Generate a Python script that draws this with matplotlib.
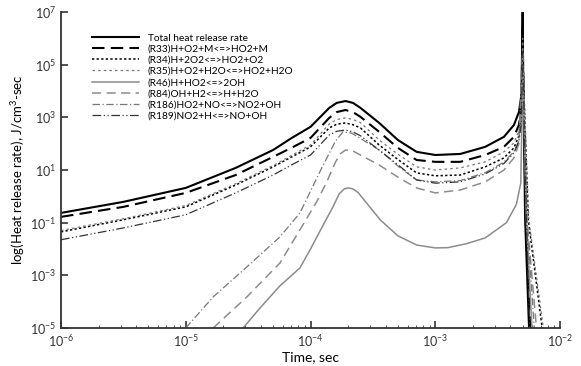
import matplotlib
matplotlib.use("Agg")
import matplotlib.pyplot as plt
import numpy as np
from matplotlib.ticker import LogLocator, NullLocator, FixedLocator

plt.rcParams['font.family'] = ['Lato', 'DejaVu Sans']
plt.rcParams['mathtext.fontset'] = 'custom'
plt.rcParams['mathtext.rm'] = 'Lato'

# values, stored as log10(time) and log10(rate)
t_main = [-6.0, -5.5, -5.0, -4.6, -4.3, -4.15, -4.0, -3.85, -3.79, -3.72, -3.66, -3.6,
          -3.45, -3.3, -3.15, -3.0, -2.8, -2.6, -2.45, -2.37, -2.33, -2.31, -2.30]

total_t = t_main + [-2.297, -2.28, -2.245]
total_v = [-0.63, -0.21, 0.32, 1.08, 1.76, 2.22, 2.64, 3.36, 3.55, 3.62, 3.55, 3.36,
           2.79, 2.14, 1.69, 1.57, 1.61, 1.88, 2.26, 2.71, 3.2, 3.85, 7.0, 5.0, -0.9, -5.5]

r33_t = t_main + [-2.295, -2.275, -2.235]
r33_v = [-0.78, -0.40, 0.13, 0.81, 1.5, 1.85, 2.22, 2.98, 3.2, 3.28, 3.2, 3.02,
         2.45, 1.84, 1.38, 1.31, 1.31, 1.57, 1.88, 2.26, 2.71, 3.4, 6.4, 4.5, -0.9, -5.5]

r34_t = t_main + [-2.29, -2.255, -2.13]
r34_v = [-1.35, -0.89, -0.40, 0.43, 1.12, 1.5, 1.88, 2.6, 2.74, 2.79, 2.72, 2.6,
         1.95, 1.4, 0.89, 0.78, 0.81, 1.12, 1.46, 1.84, 2.3, 3.0, 6.0, 4.0, -0.9, -5.5]

r35_t = t_main + [-2.29, -2.25, -2.12]
r35_v = [-1.30, -0.85, -0.35, 0.48, 1.17, 1.56, 1.95, 2.75, 2.92, 2.98, 2.92, 2.8,
         2.14, 1.6, 1.12, 1.0, 1.08, 1.31, 1.69, 2.03, 2.5, 3.2, 6.0, 4.0, -0.9, -5.5]

r46_t = [-4.60, -4.54, -4.41, -4.245, -4.085, -4.0, -3.9, -3.82, -3.77, -3.73, -3.70,
         -3.66, -3.62, -3.5, -3.44, -3.3, -3.15, -3.0, -2.9, -2.75, -2.6, -2.43, -2.35,
         -2.315, -2.30, -2.29, -2.27, -2.22]
r46_v = [-5.5, -5.0, -4.27, -3.4, -2.72, -2.0, -1.1, -0.4, 0.1, 0.28, 0.32,
         0.28, 0.15, -0.55, -0.9, -1.5, -1.85, -1.96, -1.95, -1.8, -1.58, -1.0, -0.3,
         0.5, 4.5, 3.0, -0.9, -5.5]

r84_t = [-4.83, -4.78, -4.51, -4.245, -4.085, -3.95, -3.87, -3.80, -3.76, -3.72, -3.66,
         -3.6, -3.45, -3.29, -3.15, -3.0, -2.8, -2.6, -2.45, -2.37, -2.33, -2.30, -2.29,
         -2.265, -2.18]
r84_v = [-5.5, -5.0, -3.82, -2.53, -1.27, -0.2, 0.55, 1.3, 1.62, 1.76, 1.72,
         1.57, 1.19, 0.7, 0.32, 0.13, 0.24, 0.55, 1.0, 1.46, 2.0, 5.5, 3.5, -0.9, -5.5]

r186_t = [-5.04, -5.0, -4.78, -4.51, -4.245, -4.085, -3.91, -3.80, -3.74, -3.67, -3.6,
          -3.45, -3.3, -3.15, -3.0, -2.8, -2.6, -2.45, -2.37, -2.33, -2.30, -2.29,
          -2.265, -2.2]
r186_v = [-5.5, -5.0, -3.82, -2.68, -1.54, -0.63, 1.08, 2.1, 2.45, 2.4, 2.2,
          1.76, 1.15, 0.62, 0.55, 0.6, 0.9, 1.3, 1.7, 2.1, 5.5, 3.5, -0.9, -5.5]

r189_t = t_main + [-2.29, -2.27, -2.24]
r189_v = [-1.65, -1.2, -0.7, 0.13, 0.81, 1.2, 1.57, 2.33, 2.47, 2.52, 2.45, 2.3,
          1.76, 1.2, 0.62, 0.5, 0.55, 0.85, 1.25, 1.65, 2.1, 2.8, 5.5, 3.5, -0.9, -5.5]

labels = ["Total heat release rate", "(R33)H+O2+M<=>HO2+M", "(R34)H+2O2<=>HO2+O2",
          "(R35)H+O2+H2O<=>HO2+H2O", "(R46)H+HO2<=>2OH", "(R84)OH+H2<=>H+H2O",
          "(R186)HO2+NO<=>NO2+OH", "(R189)NO2+H<=>NO+OH"]

fig = plt.figure(figsize=(5.81, 3.66), dpi=100)
ax = fig.add_axes([0.105, 0.104, 0.859, 0.863])

series = [(total_t, total_v), (r33_t, r33_v), (r34_t, r34_v), (r35_t, r35_v),
          (r46_t, r46_v), (r84_t, r84_v), (r186_t, r186_v), (r189_t, r189_v)]
styles = [
    dict(color='black', lw=1.5, ls='-'),
    dict(color='black', lw=1.5, ls=(0, (6, 3))),
    dict(color='black', lw=1.1, ls=(0, (1.5, 1.5))),
    dict(color='#777777', lw=0.9, ls=(0, (2, 2.5))),
    dict(color='#8c8c8c', lw=1.1, ls='-'),
    dict(color='#8c8c8c', lw=1.1, ls=(0, (6, 3.5))),
    dict(color='#777777', lw=0.9, ls=(0, (6, 2, 1, 2))),
    dict(color='#333333', lw=0.9, ls=(0, (7, 2, 1, 2, 1, 2))),
]

for (t, v), lab, st in zip(series, labels, styles):
    ax.plot(10 ** np.array(t), 10 ** np.array(v), label=lab, **st)

ax.set_xscale('log')
ax.set_yscale('log')
ax.set_xlim(1e-6, 1e-2)
ax.set_ylim(1e-5, 1e7)
ax.yaxis.set_major_locator(FixedLocator([1e-5, 1e-3, 1e-1, 1e1, 1e3, 1e5, 1e7]))
ax.yaxis.set_minor_locator(NullLocator())
ax.xaxis.set_minor_locator(LogLocator(base=10.0, subs=np.arange(2, 10), numticks=12))

for s in ['top', 'right']:
    ax.spines[s].set_visible(False)
for s in ['left', 'bottom']:
    ax.spines[s].set_linewidth(1.3)
    ax.spines[s].set_color('#333333')
ax.tick_params(which='major', direction='in', length=5, width=1.2, labelsize=9, colors='#333333')
ax.tick_params(which='minor', direction='in', length=2.5, width=0.7, colors='#555555')

ax.set_xlabel("Time, sec", fontsize=10, labelpad=2)
ax.set_ylabel("log(Heat release rate), J/cm$^3$-sec", fontsize=9.5, labelpad=2)

ax.legend(loc='upper left', bbox_to_anchor=(0.054, 0.945), frameon=False, fontsize=7.3,
          handlelength=4.6, labelspacing=0.2, handletextpad=0.9, borderaxespad=0)

fig.savefig("out.png", dpi=100)
